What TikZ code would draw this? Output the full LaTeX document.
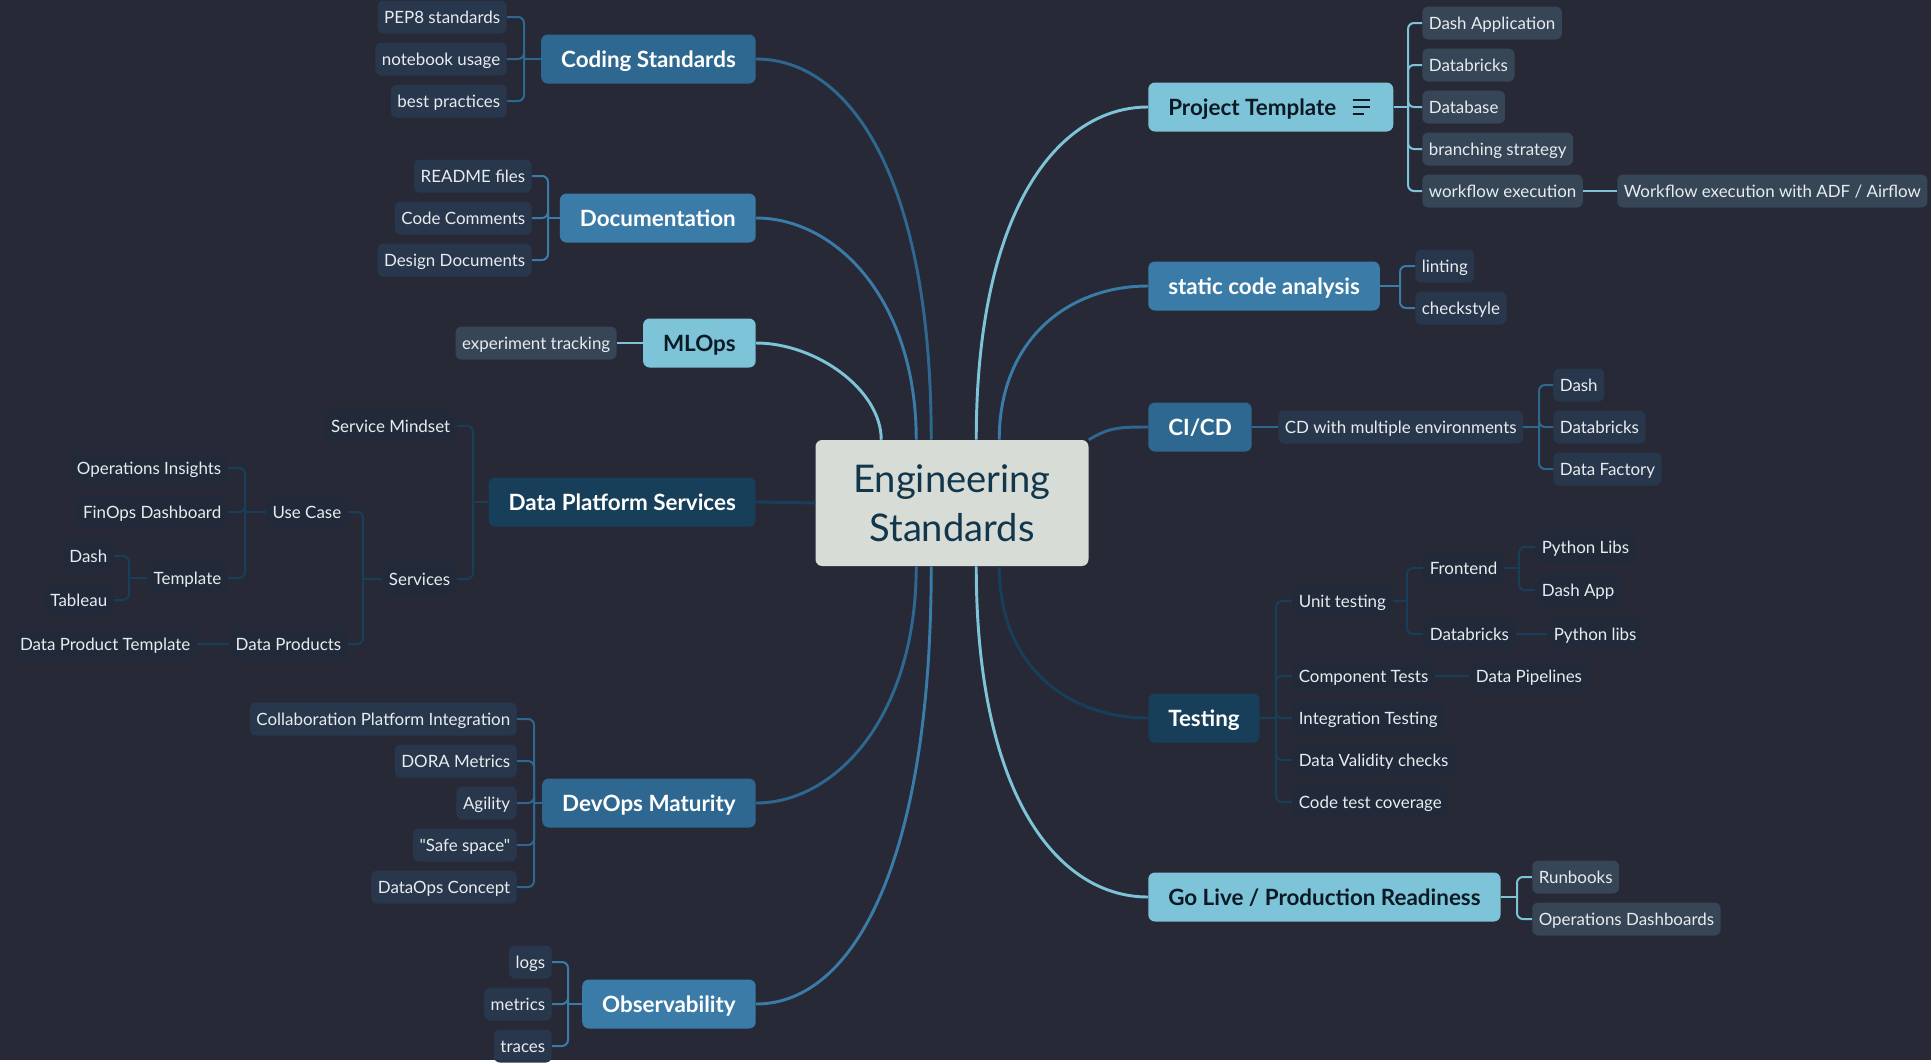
\documentclass[tikz,border=0pt]{standalone}
\usepackage{fontspec}
\setmainfont{Lato}[Ligatures=TeXOff]
\usetikzlibrary{calc}

\definecolor{bgdark}{HTML}{272936}
\definecolor{rootfill}{HTML}{D7DCD6}
\definecolor{roottext}{HTML}{12364B}
\definecolor{bluemid}{HTML}{2E6891}
\definecolor{bluesoft}{HTML}{3A7CA7}
\definecolor{bluelight}{HTML}{7EC4D8}
\definecolor{bluedeep}{HTML}{173F5A}
\definecolor{leafmid}{HTML}{28374C}
\definecolor{leaflight}{HTML}{364656}
\definecolor{leafdeep}{HTML}{222A3A}
\definecolor{leaftext}{HTML}{E8ECEF}
\definecolor{topicdark}{HTML}{0B1A24}

\tikzset{
    root/.style={fill=rootfill, text=roottext, rounded corners=5pt, align=center,
        minimum width=204.75pt, minimum height=94.5pt, font=\fontsize{28.6}{37}\selectfont},
    topic/.style={rounded corners=5pt, minimum height=36.75pt, inner xsep=15pt, inner ysep=0pt,
        text height=12pt, text depth=0pt, text=white, font=\bfseries\fontsize{16.8}{19}\selectfont},
    topic mid/.style={topic, fill=bluemid},
    topic soft/.style={topic, fill=bluesoft},
    topic deep/.style={topic, fill=bluedeep},
    topic light/.style={topic, fill=bluelight, text=topicdark},
    leaf/.style={rounded corners=4.5pt, minimum height=24.75pt, inner xsep=4.9pt, inner ysep=0pt,
        text height=9.1pt, text depth=0pt, text=leaftext, font=\fontsize{12.7}{14}\selectfont},
    leaf mid/.style={leaf, fill=leafmid},
    leaf light/.style={leaf, fill=leaflight},
    leaf deep/.style={leaf, fill=leafdeep},
    link/.style={line width=2.2pt},
    twig/.style={line width=1.5pt, rounded corners=4.5pt},
}

\begin{document}
\begin{tikzpicture}[x=0.75pt, y=-0.75pt]

    \fill[bgdark] (0,0) rectangle (1931,1060);

    \node[root] (es) at (952,503) {Engineering\\Standards};

    % left topics
    \node[topic mid, anchor=east]   (cs)     at (756,59)   {Coding Standards};
    \node[topic soft, anchor=east]  (doc)    at (756,218)  {Documentation};
    \node[topic light, anchor=east] (mlops)  at (756,343)  {MLOps};
    \node[topic deep, anchor=east]  (dps)    at (756,502)  {Data Platform Services};
    \node[topic mid, anchor=east]   (devops) at (756,803)  {DevOps Maturity};
    \node[topic soft, anchor=east]  (obs)    at (756,1004) {Observability};

    % right topics
    \node[topic light, anchor=west] (pt)     at (1148,107) {Project Template\hspace*{27.75pt}};
    \node[topic soft, anchor=west]  (sca)    at (1148,286) {static code analysis};
    \node[topic mid, anchor=west]   (cicd)   at (1148,427) {CI/CD};
    \node[topic deep, anchor=west]  (test)   at (1148,718) {Testing};
    \node[topic light, anchor=west] (golive) at (1148,897) {Go Live / Production Readiness};

    \foreach \dy/\len in {-7/17,0/17,7/11}
        \draw[line width=1.6pt, topicdark] ($(pt.east)+(-41,\dy)$) -- ++(\len,0);

    \draw[link, bluemid]   (cs.east)     .. controls +(95,0) and +(0,-260) .. ($(es.north west)+(116,0)$);
    \draw[link, bluesoft]  (doc.east)    .. controls +(80,0) and +(0,-140) .. ($(es.north west)+(101,0)$);
    \draw[link, bluelight] (mlops.east)  .. controls +(60,0) and +(0,-50)  .. ($(es.north west)+(66,0)$);
    \draw[link, bluedeep]  (dps.east) -- (es.west);
    \draw[link, bluemid]   (devops.east) .. controls +(80,0) and +(0,150)  .. ($(es.south west)+(101,0)$);
    \draw[link, bluesoft]  (obs.east)    .. controls +(100,0) and +(0,290) .. ($(es.south west)+(116,0)$);
    \draw[link, bluelight] (pt.west)     .. controls +(-90,0) and +(0,-230) .. ($(es.north west)+(161,0)$);
    \draw[link, bluesoft]  (sca.west)    .. controls +(-80,0) and +(0,-100) .. ($(es.north west)+(184,0)$);
    \draw[link, bluemid]   (cicd.west)   .. controls +(-30,0) and +(20,-12)  .. (es.north east);
    \draw[link, bluedeep]  (test.west)   .. controls +(-80,0) and +(0,100)  .. ($(es.south west)+(184,0)$);
    \draw[link, bluelight] (golive.west) .. controls +(-90,0) and +(0,230)  .. ($(es.south west)+(161,0)$);

    % Coding Standards
    \node[leaf mid, anchor=east] (pep8)  at (507,17)  {PEP8 standards};
    \node[leaf mid, anchor=east] (nbuse) at (507,59)  {notebook usage};
    \node[leaf mid, anchor=east] (bestp) at (507,101) {best practices};
    \coordinate (csj) at (524,59);
    \foreach \c in {pep8,nbuse,bestp} \draw[twig, bluemid] (\c.east) -| (csj);
    \draw[twig, bluemid] (csj) -- (cs.west);

    % Documentation
    \node[leaf mid, anchor=east] (readme)    at (532,176) {README files};
    \node[leaf mid, anchor=east] (comments)  at (532,218) {Code Comments};
    \node[leaf mid, anchor=east] (designdoc) at (532,260) {Design Documents};
    \coordinate (docj) at (548,218);
    \foreach \c in {readme,comments,designdoc} \draw[twig, bluesoft] (\c.east) -| (docj);
    \draw[twig, bluesoft] (docj) -- (doc.west);

    % MLOps
    \node[leaf light, anchor=east] (exptrack) at (617,343) {experiment tracking};
    \draw[twig, bluelight] (exptrack.east) -- (mlops.west);

    % Data Platform Services
    \node[leaf deep, anchor=east] (mindset)    at (457,426) {Service Mindset};
    \node[leaf deep, anchor=east] (services)   at (457,579) {Services};
    \node[leaf deep, anchor=east] (usecase)    at (348,512) {Use Case};
    \node[leaf deep, anchor=east] (dataprod)   at (348,644) {Data Products};
    \node[leaf deep, anchor=east] (opsins)     at (228,468) {Operations Insights};
    \node[leaf deep, anchor=east] (finops)     at (228,512) {FinOps Dashboard};
    \node[leaf deep, anchor=east] (template)   at (228,578) {Template};
    \node[leaf deep, anchor=east] (tdash)      at (114,556) {Dash};
    \node[leaf deep, anchor=east] (tableau)    at (114,600) {Tableau};
    \node[leaf deep, anchor=east] (dptemplate) at (197,644) {Data Product Template};
    \coordinate (dpsj) at (473,502);
    \coordinate (svcj) at (363,579);
    \coordinate (ucj)  at (245,512);
    \coordinate (tplj) at (129,578);
    \foreach \c in {mindset,services} \draw[twig, bluedeep] (\c.east) -| (dpsj);
    \draw[twig, bluedeep] (dpsj) -- (dps.west);
    \foreach \c in {usecase,dataprod} \draw[twig, bluedeep] (\c.east) -| (svcj);
    \draw[twig, bluedeep] (svcj) -- (services.west);
    \foreach \c in {opsins,finops,template} \draw[twig, bluedeep] (\c.east) -| (ucj);
    \draw[twig, bluedeep] (ucj) -- (usecase.west);
    \foreach \c in {tdash,tableau} \draw[twig, bluedeep] (\c.east) -| (tplj);
    \draw[twig, bluedeep] (tplj) -- (template.west);
    \draw[twig, bluedeep] (dptemplate.east) -- (dataprod.west);

    % DevOps Maturity
    \node[leaf mid, anchor=east] (collab)    at (517,719) {Collaboration Platform Integration};
    \node[leaf mid, anchor=east] (dora)      at (517,761) {DORA Metrics};
    \node[leaf mid, anchor=east] (agility)   at (517,803) {Agility};
    \node[leaf mid, anchor=east] (safespace) at (517,845) {"Safe space"};
    \node[leaf mid, anchor=east] (dataops)   at (517,887) {DataOps Concept};
    \coordinate (devj) at (534,803);
    \foreach \c in {collab,dora,agility,safespace,dataops} \draw[twig, bluemid] (\c.east) -| (devj);
    \draw[twig, bluemid] (devj) -- (devops.west);

    % Observability
    \node[leaf mid, anchor=east] (logs)    at (552,962)  {logs};
    \node[leaf mid, anchor=east] (metrics) at (552,1004) {metrics};
    \node[leaf mid, anchor=east] (traces)  at (552,1046) {traces};
    \coordinate (obsj) at (568,1004);
    \foreach \c in {logs,metrics,traces} \draw[twig, bluesoft] (\c.east) -| (obsj);
    \draw[twig, bluesoft] (obsj) -- (obs.west);

    % Project Template
    \node[leaf light, anchor=west] (dashapp)   at (1422,23)  {Dash Application};
    \node[leaf light, anchor=west] (ptdbx)     at (1422,65)  {Databricks};
    \node[leaf light, anchor=west] (database)  at (1422,107) {Database};
    \node[leaf light, anchor=west] (branching) at (1422,149) {branching strategy};
    \node[leaf light, anchor=west] (workflow)  at (1422,191) {workflow execution};
    \node[leaf light, anchor=west] (adfflow)   at (1617,191) {Workflow execution with ADF / Airflow};
    \coordinate (ptj) at (1408,107);
    \foreach \c in {dashapp,ptdbx,database,branching,workflow} \draw[twig, bluelight] (\c.west) -| (ptj);
    \draw[twig, bluelight] (ptj) -- (pt.east);
    \draw[twig, bluelight] (workflow.east) -- (adfflow.west);

    % static code analysis
    \node[leaf mid, anchor=west] (linting)    at (1415,266) {linting};
    \node[leaf mid, anchor=west] (checkstyle) at (1415,308) {checkstyle};
    \coordinate (scaj) at (1400,286);
    \foreach \c in {linting,checkstyle} \draw[twig, bluesoft] (\c.west) -| (scaj);
    \draw[twig, bluesoft] (scaj) -- (sca.east);

    % CI/CD
    \node[leaf mid, anchor=west] (cdmulti) at (1278,427) {CD with multiple environments};
    \node[leaf mid, anchor=west] (cddash)  at (1553,385) {Dash};
    \node[leaf mid, anchor=west] (cddbx)   at (1553,427) {Databricks};
    \node[leaf mid, anchor=west] (cdadf)   at (1553,469) {Data Factory};
    \coordinate (cdj) at (1539,427);
    \draw[twig, bluemid] (cicd.east) -- (cdmulti.west);
    \foreach \c in {cddash,cddbx,cdadf} \draw[twig, bluemid] (\c.west) -| (cdj);
    \draw[twig, bluemid] (cdj) -- (cdmulti.east);

    % Testing
    \node[leaf deep, anchor=west] (unittest)  at (1292,601) {Unit testing};
    \node[leaf deep, anchor=west] (comptest)  at (1292,676) {Component Tests};
    \node[leaf deep, anchor=west] (integ)     at (1292,718) {Integration Testing};
    \node[leaf deep, anchor=west] (validity)  at (1292,760) {Data Validity checks};
    \node[leaf deep, anchor=west] (coverage)  at (1292,802) {Code test coverage};
    \node[leaf deep, anchor=west] (frontend)  at (1423,568) {Frontend};
    \node[leaf deep, anchor=west] (utdbx)     at (1423,634) {Databricks};
    \node[leaf deep, anchor=west] (pylibs)    at (1535,547) {Python Libs};
    \node[leaf deep, anchor=west] (dashapp2)  at (1535,590) {Dash App};
    \node[leaf deep, anchor=west] (pylibs2)   at (1547,634) {Python libs};
    \node[leaf deep, anchor=west] (pipelines) at (1469,676) {Data Pipelines};
    \coordinate (testj) at (1276,718);
    \coordinate (utj)   at (1407,601);
    \coordinate (fej)   at (1519,568);
    \foreach \c in {unittest,comptest,integ,validity,coverage} \draw[twig, bluedeep] (\c.west) -| (testj);
    \draw[twig, bluedeep] (testj) -- (test.east);
    \foreach \c in {frontend,utdbx} \draw[twig, bluedeep] (\c.west) -| (utj);
    \draw[twig, bluedeep] (utj) -- (unittest.east);
    \foreach \c in {pylibs,dashapp2} \draw[twig, bluedeep] (\c.west) -| (fej);
    \draw[twig, bluedeep] (fej) -- (frontend.east);
    \draw[twig, bluedeep] (utdbx.east) -- (pylibs2.west);
    \draw[twig, bluedeep] (comptest.east) -- (pipelines.west);

    % Go Live
    \node[leaf light, anchor=west] (runbooks) at (1532,877) {Runbooks};
    \node[leaf light, anchor=west] (opsdash)  at (1532,919) {Operations Dashboards};
    \coordinate (glj) at (1517,897);
    \foreach \c in {runbooks,opsdash} \draw[twig, bluelight] (\c.west) -| (glj);
    \draw[twig, bluelight] (glj) -- (golive.east);

\end{tikzpicture}
\end{document}
